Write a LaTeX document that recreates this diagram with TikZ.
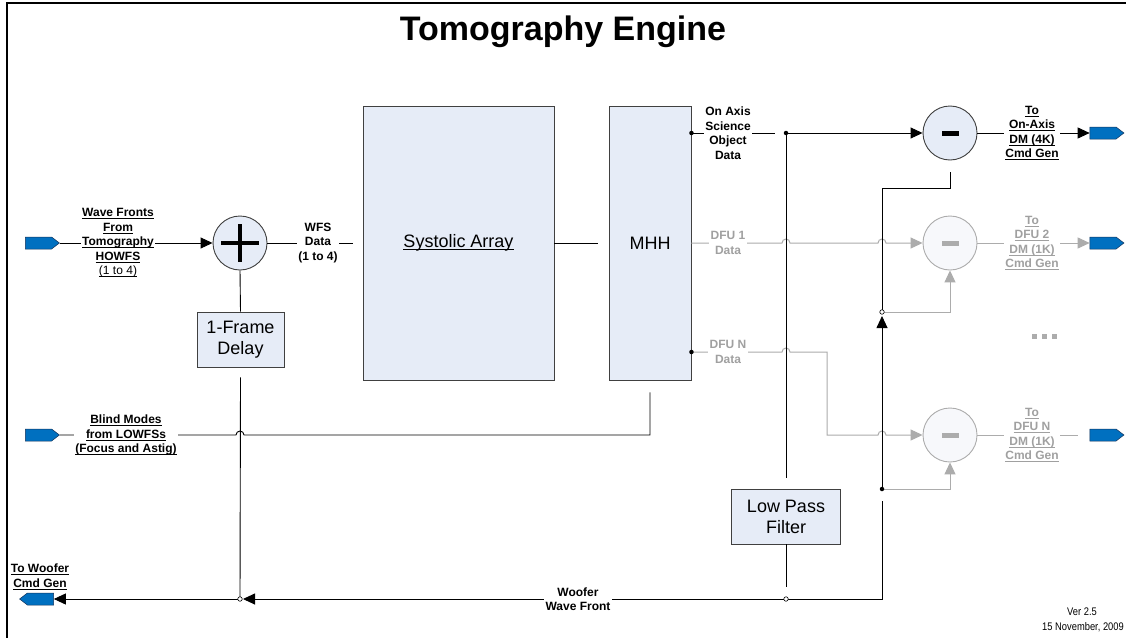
\documentclass[tikz,border=0pt]{standalone}
\usepackage{fontspec}
\setmainfont{Liberation Sans}
\newfontfamily\narrowfont{Liberation Sans}[FakeStretch=0.85]
\newcommand\myul[1]{\setbox0\hbox{#1}\rlap{\rule[-2.3pt]{\wd0}{0.8pt}}\box0}
\usetikzlibrary{arrows.meta,shapes.symbols,calc}
\definecolor{boxfill}{RGB}{230,236,247}
\definecolor{boxedge}{RGB}{64,64,64}
\definecolor{portblue}{RGB}{0,112,192}
\definecolor{portedge}{RGB}{20,50,90}
\definecolor{ghost}{RGB}{172,172,172}
\definecolor{ghosttext}{RGB}{160,160,160}
\definecolor{ghostfill}{RGB}{247,248,251}
\tikzset{
 conn/.style={line width=0.9pt, draw=black},
 ghostconn/.style={line width=1pt, draw=ghost},
 arrowend/.style={-{Triangle[length=12pt,width=11pt]}},
 blockbox/.style={draw=boxedge, line width=0.9pt, fill=boxfill, inner sep=0pt, font=\fontsize{18}{21}\selectfont, align=center},
 sumcirc/.style={circle, draw=boxedge, line width=0.9pt, fill=boxfill, minimum size=54pt, inner sep=0pt},
 ghostcirc/.style={circle, draw=ghost, line width=0.9pt, fill=ghostfill, minimum size=54pt, inner sep=0pt},
 port/.style={signal, signal pointer angle=75, fill=portblue, draw=portedge, line width=0.5pt, minimum width=34pt, minimum height=12pt, inner sep=0pt},
 lab/.style={fill=white, inner sep=1.5pt, align=center, font=\bfseries\fontsize{12}{14.5}\selectfont},
 ghostlab/.style={lab, text=ghosttext},
 jdot/.style={circle, fill=black, inner sep=0pt, minimum size=4.5pt},
 jring/.style={circle, draw=black, fill=white, line width=0.6pt, inner sep=0pt, minimum size=4.5pt},
}
\begin{document}
\begin{tikzpicture}[x=1pt,y=-1pt]
\useasboundingbox (0,0) rectangle (1126,637);
\fill[white] (0,0) rectangle (1126,637);
\draw[line width=2.5pt] (7,645) -- (7,3) -- (1130,3);

\node[font=\bfseries\fontsize{34}{40}\selectfont, anchor=base] (title) at (563,40) {Tomography Engine};

% ports
\node[port] (in1) at (38.5,243) {};
\node[port] (in2) at (38.5,435) {};
\node[port, signal to=west] (wout) at (40.5,599) {};
\node[port] (out1) at (1103,133) {};
\node[port] (out2) at (1103,243) {};
\node[port] (out3) at (1103,435) {};

% blocks
\node[sumcirc] (plus) at (240,243) {};
\draw[line width=4.5pt] ($(plus.center)+(-19,0)$) -- ($(plus.center)+(19,0)$)
  ($(plus.center)+(0,-19)$) -- ($(plus.center)+(0,19)$);
\node[blockbox, minimum width=87pt, minimum height=55pt] (delay) at (240.5,339.5) {1-Frame\\Delay};
\node[blockbox, minimum width=191pt, minimum height=274pt] (sys) at (458.5,243) {\myul{Systolic Array}};
\node[blockbox, minimum width=82pt, minimum height=274pt] (mhh) at (650,243) {MHH};
\node[blockbox, minimum width=109pt, minimum height=55pt] (lpf) at (786,516.5) {Low Pass\\Filter};
\node[sumcirc] (m1) at (950,133) {};
\fill ($(m1.center)+(-8.5,-2.5)$) rectangle ($(m1.center)+(8.5,2.5)$);
\node[ghostcirc] (m2) at (950,243) {};
\fill[ghost] ($(m2.center)+(-8.5,-2.5)$) rectangle ($(m2.center)+(8.5,2.5)$);
\node[ghostcirc] (m3) at (950,435) {};
\fill[ghost] ($(m3.center)+(-8.5,-2.5)$) rectangle ($(m3.center)+(8.5,2.5)$);

% wave fronts input
\draw[conn, arrowend] (in1.east) -- (plus.west);
\node[lab] (labwf) at (118,243) {\myul{Wave Fronts}\\\myul{From}\\\myul{Tomography}\\\myul{HOWFS}\\\mdseries\myul{(1 to 4)}};

% WFS data
\coordinate (sysin) at ($(sys.west)+(-10,0)$);
\draw[conn] (plus.east) -- (sysin);
\node[lab] (labwfs) at (318,243) {WFS\\Data\\(1 to 4)};
\coordinate (mhhin) at ($(mhh.west)+(-11,0)$);
\draw[conn] (sys.east) -- (mhhin);

% delay loop
\draw[conn] (plus.south) -- (delay.north);
\coordinate (dlyout) at ($(delay.south)+(0,10)$);
\coordinate (wj) at (240,599);
\draw[conn] (dlyout) -- (wj);

% blind modes
\coordinate (mhhb) at ($(mhh.south)+(0,12)$);
\draw[conn] (in2.east) -- (236,435) arc[start angle=180,end angle=360,radius=4] -- (mhhb |- in2.east) -- (mhhb);
\node[lab] (labbm) at (126,435) {\myul{Blind Modes}\\\myul{from LOWFSs}\\\myul{(Focus and Astig)}};

% ghost lines (drawn below black lines)
\coordinate (jr1) at (882,312);
\coordinate (jr2) at (882,489);
\draw[ghostconn, arrowend] (jr1) -- (m2.south |- jr1) -- (m2.south);
\draw[ghostconn, arrowend] (jr2) -- (m3.south |- jr2) -- (m3.south);
\draw[ghostconn, arrowend] (mhh.east) -- (782,243) arc[start angle=180,end angle=360,radius=4]
  -- (878,243) arc[start angle=180,end angle=360,radius=4] -- (m2.west);
\node[ghostlab] (labd1) at (728,243) {DFU 1\\Data};
\coordinate (on) at (mhh.east |- 0,352);
\draw[ghostconn, arrowend] (on) -- (782,352) arc[start angle=180,end angle=360,radius=4]
  -- (827,352) -- (827,435) -- (878,435) arc[start angle=180,end angle=360,radius=4] -- (m3.west);
\node[ghostlab] (labdn) at (728,352) {DFU N\\Data};
\node[jdot] at (on) {};
\draw[ghostconn, arrowend] (m2.east) -- (out2.west);
\node[ghostlab] (labo2) at (1032,243) {\myul{To}\\\myul{DFU 2}\\\myul{DM (1K)}\\\myul{Cmd Gen}};
\draw[ghostconn] (m3.east) -- ($(out3.west)+(-12,0)$);
\node[ghostlab] (labo3) at (1032,435) {\myul{To}\\\myul{DFU N}\\\myul{DM (1K)}\\\myul{Cmd Gen}};
\foreach \xx in {1034.5,1044.5,1054.5}
  \fill[ghost] (\xx-2.5,333.5) rectangle (\xx+2.5,338.5);

% on axis
\coordinate (oa) at (mhh.east |- m1.center);
\coordinate (oaend) at (775,133);
\draw[conn] (oa) -- (oaend);
\coordinate (ja) at (786,133);
\draw[conn, arrowend] (ja) -- (m1.west);
\draw[conn] (ja) -- ($(lpf.north)+(0,-11)$);
\draw[conn] (lpf.south) -- ($(lpf.south)+(0,43)$);
\node[lab] (laboa) at (728,133) {On Axis\\Science\\Object\\Data};
\node[jdot] at (oa) {};
\node[jdot] at (ja) {};
\draw[conn, arrowend] (m1.east) -- (out1.west);
\node[lab] (labo1) at (1032,133) {\myul{To}\\\myul{On-Axis}\\\myul{DM (4K)}\\\myul{Cmd Gen}};

% woofer feedback
\coordinate (fb1) at (882,188);
\draw[conn] ($(m1.south)+(0,12)$) -- (m1.south |- fb1) -- (fb1) -- (jr1);
\draw[conn, arrowend] (jr2) -- ($(jr1)+(0,4)$);
\coordinate (wc) at (882,599);
\coordinate (ws) at (882,501);
\coordinate (lj) at (786,599);
\draw[conn, arrowend] (ws) -- (wc) -- ($(wj)+(3,0)$);
\draw[conn, arrowend] (wj) -- (wout.east);
\node[lab] (labww) at (578,599) {Woofer\\Wave Front};
\node[jring] at (lj) {};
\node[jring] at (wj) {};
\node[jring] at (jr1) {};
\node[jdot] at (jr2) {};
\node[lab, fill=none] (labtw) at (40,577) {\myul{To Woofer}\\\myul{Cmd Gen}};

% version
\node[font=\narrowfont\fontsize{11}{13}\selectfont] (ver) at (1082,612) {Ver 2.5};
\node[font=\narrowfont\fontsize{11}{13}\selectfont, anchor=east, inner sep=0pt] (date) at (1124,627) {15 November, 2009};
\end{tikzpicture}
\end{document}
